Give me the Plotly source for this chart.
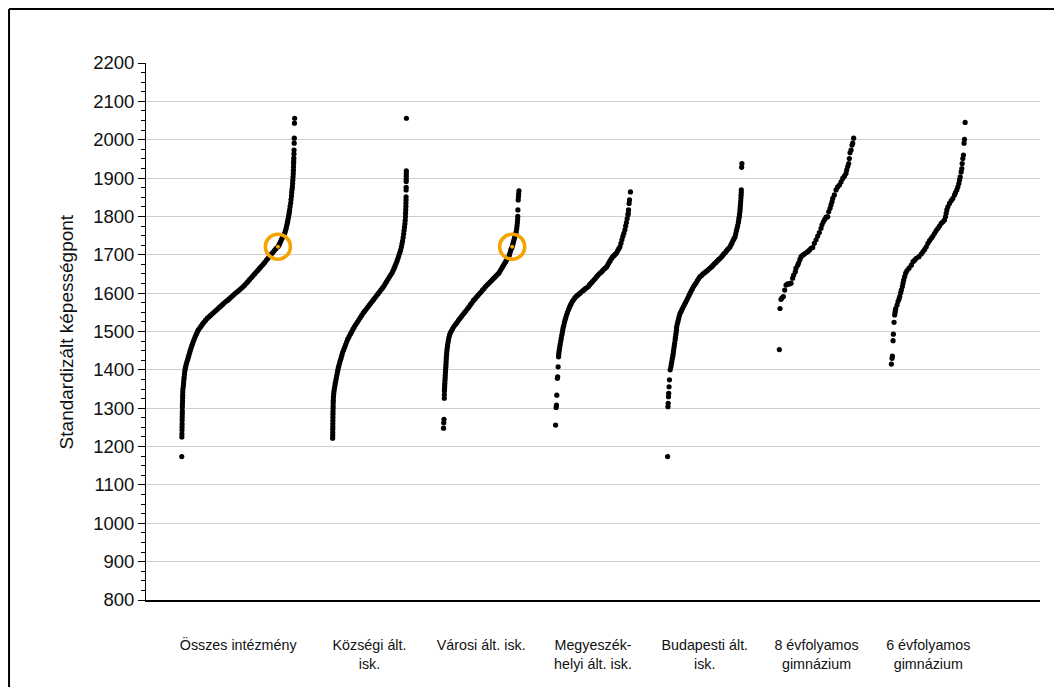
import plotly.graph_objects as go

# school types on the x axis
categories = ['Összes intézmény', 'Községi ált.<br>isk.', 'Városi ált. isk.',
              'Megyeszék-<br>helyi ált. isk.', 'Budapesti ált.<br>isk.',
              '8 évfolyamos<br>gimnázium', '6 évfolyamos<br>gimnázium']

# percentile rank of a school within its type, and its standardised score
osszes_pct = [0.0, 0.1, 0.15, 0.2, 0.25, 0.3, 0.35, 0.4, 0.45, 0.5, 0.55, 0.6, 0.7, 0.75, 0.85, 0.9, 1.0,
              1.4, 1.6, 1.9, 2.1, 2.4, 2.7, 3.1, 3.5, 4.0, 4.6, 5.2, 5.8, 6.4, 7.0, 7.6, 8.2, 8.9, 9.6,
              10.4, 11.2, 12.0, 12.9, 13.8, 14.7, 15.9, 17.1, 18.3, 19.6, 21.0, 22.5, 24.0, 25.5, 27.0,
              28.5, 30.0, 31.5, 33.0, 34.5, 36.0, 37.5, 39.0, 40.5, 42.0, 43.5, 45.0, 46.5, 48.0, 49.5,
              51.0, 52.5, 54.0, 55.5, 57.0, 58.5, 60.0, 61.5, 63.0, 64.5, 66.0, 67.5, 69.0, 70.5, 72.0,
              73.5, 75.0, 76.4, 77.8, 79.2, 80.6, 82.0, 83.4, 85.2, 86.0, 86.7, 87.5, 88.2, 88.9, 89.6,
              90.4, 91.2, 91.8, 92.4, 92.9, 93.4, 93.8, 94.2, 94.6, 95.0, 95.3, 95.6, 96.0, 96.5, 96.8,
              97.2, 97.4, 97.7, 98.0, 98.2, 98.4, 98.6, 98.8, 98.9, 99.0, 99.1, 99.2, 99.3, 99.4, 99.5,
              99.6, 99.7, 99.85, 100.0]
osszes_score = [1174, 1225, 1233, 1243, 1251, 1259, 1269, 1277, 1285, 1293, 1303, 1311, 1319, 1327, 1334,
                1342, 1350, 1358, 1366, 1374, 1381, 1389, 1397, 1403, 1409, 1415, 1421, 1427, 1433, 1439,
                1445, 1451, 1457, 1463, 1469, 1475, 1481, 1487, 1493, 1499, 1504, 1509, 1514, 1519, 1524,
                1529, 1534, 1538, 1542, 1546, 1550, 1554, 1558, 1562, 1566, 1570, 1574, 1578, 1581, 1585,
                1589, 1593, 1597, 1601, 1604, 1608, 1612, 1616, 1620, 1625, 1630, 1635, 1640, 1645, 1650,
                1655, 1660, 1665, 1670, 1675, 1680, 1686, 1691, 1696, 1701, 1706, 1711, 1716, 1721, 1725,
                1729, 1734, 1739, 1743, 1747, 1752, 1756, 1762, 1768, 1775, 1781, 1787, 1793, 1799, 1806,
                1812, 1817, 1826, 1835, 1844, 1853, 1862, 1870, 1877, 1886, 1894, 1903, 1911, 1920, 1929,
                1938, 1944, 1952, 1963, 1973, 1991, 2004, 2043, 2056]

kozsegi_pct = [0.0, 0.1, 0.15, 0.2, 0.25, 0.3, 0.35, 0.4, 0.45, 0.5, 0.6, 0.7, 0.8, 0.9, 1.1, 1.4, 1.8,
               2.3, 2.9, 3.5, 4.2, 4.9, 5.6, 6.3, 7.0, 7.7, 8.5, 9.5, 10.5, 11.5, 12.5, 13.5, 14.9, 16.3,
               17.7, 19.1, 20.5, 22.2, 24.0, 25.8, 27.6, 29.4, 31.4, 33.4, 35.4, 37.4, 39.4, 41.4, 43.4,
               45.4, 47.4, 49.4, 51.4, 53.4, 55.4, 57.4, 59.4, 61.4, 63.4, 65.4, 67.4, 69.3, 71.2, 73.1,
               75.0, 76.9, 78.8, 80.7, 82.0, 83.4, 84.7, 86.0, 87.4, 88.6, 89.8, 91.0, 92.1, 93.2, 94.0,
               94.8, 95.6, 96.3, 96.9, 97.5, 98.0, 98.4, 98.7, 98.9, 99.1, 99.3, 99.4, 99.5, 99.6, 99.65,
               99.7, 99.75, 99.8, 99.85, 99.9, 99.95, 100.0]
kozsegi_score = [1222, 1229, 1237, 1245, 1252, 1260, 1268, 1276, 1284, 1291, 1299, 1306, 1314, 1321, 1329,
                 1336, 1343, 1350, 1357, 1364, 1371, 1378, 1385, 1392, 1399, 1405, 1411, 1418, 1425, 1431,
                 1438, 1445, 1452, 1459, 1466, 1473, 1480, 1486, 1493, 1499, 1506, 1512, 1518, 1524, 1530,
                 1536, 1542, 1548, 1553, 1558, 1563, 1568, 1573, 1578, 1583, 1588, 1593, 1598, 1603, 1608,
                 1613, 1618, 1624, 1630, 1636, 1642, 1648, 1653, 1659, 1665, 1671, 1677, 1684, 1691, 1698,
                 1705, 1712, 1720, 1728, 1736, 1745, 1754, 1763, 1772, 1781, 1790, 1799, 1808, 1817, 1826,
                 1835, 1843, 1851, 1869, 1876, 1891, 1897, 1905, 1912, 1919, 2056]

varosi_pct = [0.0, 0.3, 0.6, 1.0, 1.1, 1.2, 1.3, 1.5, 1.7, 1.9, 2.1, 2.3, 2.5, 2.7, 3.0, 3.2, 3.4, 3.6,
              3.8, 4.1, 4.4, 4.8, 5.3, 5.8, 6.4, 7.1, 8.0, 9.2, 10.6, 12.0, 13.7, 15.7, 17.7, 19.7, 21.7,
              23.7, 25.7, 27.7, 29.7, 31.7, 33.7, 35.7, 37.7, 39.7, 41.7, 43.7, 45.7, 47.7, 49.7, 51.7,
              53.7, 55.7, 57.7, 59.7, 61.7, 63.7, 65.7, 67.7, 69.7, 71.7, 73.3, 74.8, 76.3, 77.8, 79.3,
              80.8, 82.3, 83.8, 85.3, 86.6, 87.5, 88.4, 89.3, 90.2, 91.0, 91.8, 92.6, 93.4, 94.2, 95.0,
              95.7, 96.4, 97.0, 97.5, 97.9, 98.2, 98.4, 98.6, 99.0, 99.3, 99.6, 100.0]
varosi_score = [1248, 1262, 1271, 1326, 1335, 1345, 1352, 1358, 1365, 1372, 1379, 1386, 1393, 1400, 1407,
                1414, 1421, 1428, 1435, 1442, 1449, 1456, 1463, 1470, 1477, 1484, 1491, 1497, 1502, 1507,
                1513, 1518, 1523, 1529, 1534, 1539, 1544, 1549, 1554, 1559, 1564, 1570, 1575, 1581, 1585,
                1590, 1594, 1599, 1603, 1608, 1612, 1617, 1621, 1625, 1629, 1633, 1637, 1641, 1645, 1649,
                1652, 1657, 1662, 1667, 1672, 1677, 1682, 1687, 1691, 1695, 1701, 1707, 1713, 1717, 1721,
                1727, 1733, 1739, 1745, 1750, 1755, 1760, 1768, 1776, 1784, 1792, 1800, 1817, 1843, 1851,
                1859, 1867]

megyei_pct = [0.0, 0.8, 1.2, 1.7, 2.4, 2.8, 3.4, 4.0, 4.3, 4.6, 5.1, 5.6, 6.2, 6.9, 7.6, 8.3, 9.0, 9.6,
              10.3, 11.1, 11.9, 12.7, 13.6, 14.6, 15.8, 17.1, 18.4, 19.7, 21.0, 22.3, 23.7, 25.5, 27.3,
              29.1, 30.9, 32.7, 34.9, 37.1, 39.3, 41.5, 43.7, 45.5, 47.4, 49.2, 51.1, 52.9, 54.9, 56.8,
              58.7, 60.6, 62.5, 64.4, 66.3, 68.3, 69.8, 71.2, 72.7, 74.2, 75.7, 77.2, 78.6, 80.1, 81.6,
              83.0, 84.5, 86.0, 87.3, 88.6, 89.9, 91.2, 92.6, 93.6, 94.6, 95.6, 96.7, 97.0, 97.5, 98.2,
              98.8, 100.0]
megyei_score = [1256, 1302, 1308, 1334, 1378, 1382, 1408, 1434, 1441, 1447, 1453, 1460, 1467, 1475, 1482,
                1490, 1497, 1504, 1511, 1517, 1524, 1530, 1536, 1543, 1549, 1556, 1562, 1568, 1573, 1578,
                1582, 1587, 1591, 1594, 1597, 1600, 1604, 1607, 1611, 1614, 1617, 1622, 1626, 1630, 1634,
                1638, 1643, 1647, 1651, 1654, 1658, 1662, 1665, 1669, 1674, 1679, 1684, 1689, 1693, 1697,
                1699, 1702, 1705, 1711, 1716, 1721, 1730, 1739, 1748, 1756, 1765, 1775, 1784, 1794, 1804,
                1808, 1817, 1834, 1843, 1864]

budapest_pct = [0.0, 0.5, 0.8, 1.2, 1.5, 2.0, 2.5, 3.5, 4.4, 5.0, 5.6, 6.2, 6.9, 7.4, 7.9, 8.4, 8.9, 9.4,
                10.1, 10.6, 11.1, 11.6, 12.0, 12.3, 13.1, 14.0, 14.9, 15.8, 16.8, 18.3, 19.8, 21.3, 22.8,
                24.3, 25.8, 27.3, 28.8, 30.3, 31.8, 33.3, 34.9, 36.6, 38.4, 40.1, 41.9, 43.6, 45.6, 47.6,
                49.6, 51.6, 53.6, 55.6, 57.6, 59.4, 61.3, 63.2, 65.1, 67.0, 68.9, 70.8, 72.8, 74.4, 76.0,
                77.6, 79.2, 80.8, 82.4, 84.0, 85.3, 86.7, 88.0, 89.4, 90.7, 91.6, 92.5, 93.4, 94.3, 95.2,
                95.7, 96.3, 96.8, 97.3, 97.5, 97.8, 98.1, 98.4, 98.7, 98.9, 99.1, 99.2, 99.6, 100.0]
budapest_score = [1174, 1304, 1313, 1330, 1339, 1356, 1374, 1400, 1408, 1415, 1421, 1428, 1434, 1441, 1448,
                  1455, 1462, 1469, 1478, 1485, 1492, 1499, 1506, 1513, 1520, 1527, 1534, 1541, 1547, 1553,
                  1559, 1565, 1571, 1576, 1582, 1588, 1594, 1600, 1606, 1611, 1617, 1622, 1627, 1633, 1638,
                  1643, 1646, 1650, 1653, 1656, 1659, 1663, 1666, 1669, 1673, 1677, 1680, 1684, 1688, 1691,
                  1695, 1699, 1703, 1706, 1710, 1714, 1717, 1721, 1726, 1731, 1737, 1742, 1747, 1754, 1762,
                  1769, 1776, 1784, 1791, 1798, 1805, 1812, 1819, 1826, 1833, 1840, 1848, 1855, 1862, 1869,
                  1928, 1938]

gimn8_pct = [0.0, 0.9, 2.2, 3.6, 5.4, 7.2, 9.0, 11.2, 13.5, 15.7, 17.9, 19.3, 21.5, 22.4, 24.7, 26.0, 27.8,
             29.2, 31.4, 33.7, 35.9, 38.1, 40.4, 42.6, 44.9, 47.1, 49.4, 51.6, 53.8, 56.1, 57.4, 59.2,
             61.0, 62.8, 65.1, 66.4, 68.2, 69.5, 70.9, 71.8, 74.0, 76.3, 78.5, 80.8, 83.0, 85.3, 87.5,
             89.7, 90.6, 92.0, 93.3, 94.2, 95.1, 96.5, 97.8, 98.7, 100.0]
gimn8_score = [1453, 1560, 1584, 1588, 1591, 1608, 1621, 1624, 1624, 1626, 1639, 1647, 1656, 1665, 1673,
               1679, 1688, 1695, 1699, 1702, 1705, 1708, 1712, 1717, 1719, 1730, 1739, 1749, 1758, 1769,
               1778, 1786, 1792, 1798, 1799, 1812, 1821, 1830, 1838, 1847, 1856, 1869, 1877, 1882, 1890,
               1899, 1905, 1912, 1921, 1930, 1938, 1951, 1966, 1973, 1986, 1991, 2004]

gimn6_pct = [0.0, 0.9, 1.4, 2.3, 2.7, 3.6, 4.5, 5.0, 5.4, 5.9, 7.7, 9.0, 10.4, 11.3, 12.6, 13.5, 14.9,
             15.8, 16.7, 18.0, 19.4, 21.2, 23.9, 27.0, 29.3, 31.5, 33.8, 37.4, 40.5, 42.8, 45.1, 47.3,
             49.6, 51.8, 54.1, 56.3, 58.6, 60.8, 63.1, 65.3, 67.6, 69.8, 72.1, 73.4, 74.3, 75.2, 76.6,
             78.8, 81.1, 83.3, 85.6, 86.9, 88.7, 90.1, 91.5, 92.4, 93.3, 94.6, 95.5, 96.0, 96.9, 97.7,
             98.6, 99.1, 100.0]
gimn6_score = [1415, 1430, 1436, 1476, 1493, 1524, 1543, 1550, 1556, 1560, 1569, 1578, 1585, 1591, 1601,
               1608, 1617, 1626, 1634, 1643, 1652, 1659, 1665, 1673, 1682, 1686, 1691, 1695, 1702, 1708,
               1714, 1721, 1730, 1737, 1743, 1749, 1756, 1763, 1769, 1775, 1782, 1786, 1791, 1799, 1808,
               1817, 1825, 1834, 1841, 1847, 1856, 1862, 1869, 1877, 1886, 1895, 1903, 1916, 1925, 1938,
               1951, 1960, 1991, 2001, 2045]

# the school marked with the orange ring: its score and its rank in two of the groups
highlight_score = 1721
highlight_pct = {0: 85.2, 2: 91.0}

groups = [(osszes_pct, osszes_score), (kozsegi_pct, kozsegi_score), (varosi_pct, varosi_score),
          (megyei_pct, megyei_score), (budapest_pct, budapest_score),
          (gimn8_pct, gimn8_score), (gimn6_pct, gimn6_score)]

# where each group sits on the x axis and how wide its band is
centers = [-0.175, 1, 2, 3, 4, 5, 6]
widths = [1.01, 0.66, 0.675, 0.67, 0.665, 0.665, 0.66]

ORANGE = '#F6A300'
FONT = 'Liberation Sans, Arial, sans-serif'


def to_x(k, pct):
    return centers[k] - widths[k] / 2 + widths[k] * pct / 100.0


fig = go.Figure()
for k, (pct, score) in enumerate(groups):
    fig.add_trace(go.Scatter(x=[to_x(k, p) for p in pct], y=score, mode='markers',
                             marker=dict(size=5.2, color='black'), hoverinfo='skip', cliponaxis=False))

hx = [to_x(k, p) for k, p in highlight_pct.items()]
hy = [highlight_score] * len(hx)
fig.add_trace(go.Scatter(x=hx, y=hy, mode='markers', marker=dict(size=4, color=ORANGE), hoverinfo='skip'))
fig.add_trace(go.Scatter(x=hx, y=hy, mode='markers',
                         marker=dict(size=25, symbol='circle-open', color=ORANGE, line=dict(width=3.6, color=ORANGE)),
                         hoverinfo='skip'))

fig.update_xaxes(range=[-1, 7], tickvals=centers, ticktext=categories, ticks='',
                 showline=True, linecolor='black', linewidth=1.5, showgrid=False, zeroline=False,
                 tickfont=dict(size=14.3, color='#111', family=FONT), ticklabelstandoff=31)
fig.update_yaxes(range=[800, 2200], dtick=100, ticks='outside', ticklen=7, tickcolor='black',
                 showline=True, linecolor='black', linewidth=1, zeroline=False,
                 gridcolor='#cfcfcf', gridwidth=1,
                 tickfont=dict(size=18.5, color='#111', family=FONT),
                 minor=dict(dtick=25, ticks='outside', ticklen=4, tickcolor='black', showgrid=False))

fig.add_annotation(text='Standardizált képességpont', xref='paper', yref='paper', x=-0.0885, y=0.5,
                   xanchor='center', yanchor='middle', textangle=-90, showarrow=False,
                   font=dict(size=19, color='#111', family=FONT))

# outer frame of the figure: only its left and top edges are inside the picture,
# kept within the figure so the page does not overflow
frame = dict(color='black', width=2)
fig.add_shape(type='line', xref='paper', yref='paper', x0=-0.1532, x1=1.0157, y0=1.1006, y1=1.1006, line=frame)
fig.add_shape(type='line', xref='paper', yref='paper', x0=-0.1532, x1=-0.1532, y0=-0.162, y1=1.1006, line=frame)

# the page keeps an 8 px body margin, so the figure is shrunk to fit the window without scrolling
fig.update_layout(width=1046, height=679, margin=dict(l=138, r=14, t=55, b=87),
                  paper_bgcolor='white', plot_bgcolor='white', showlegend=False,
                  font=dict(family=FONT, color='#111'))

fig.write_html('out.html')
